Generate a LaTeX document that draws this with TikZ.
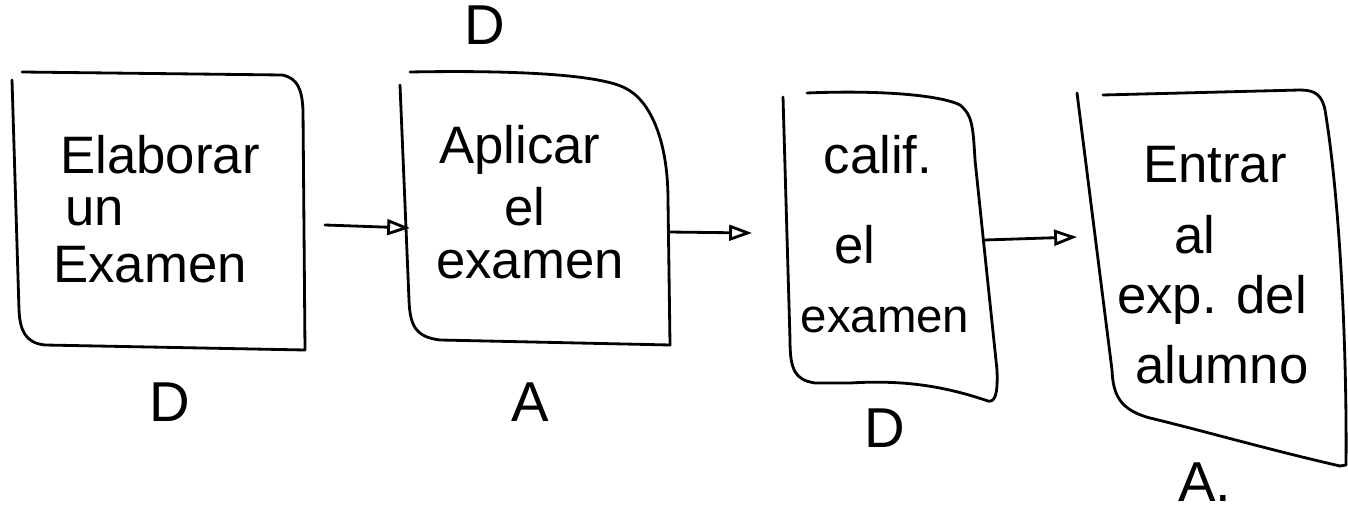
\documentclass[tikz,border=0pt]{standalone}
\usepackage{tikz}
\usetikzlibrary{arrows.meta}
\usepackage{fontspec}
\setmainfont{Liberation Sans}
\tikzset{
  hand/.style={line width=1.6pt, line cap=round, line join=round},
  flecha/.style={hand, -{Triangle[open,length=13pt,width=9pt]}},
  txt/.style={font=\fontsize{30}{34}\selectfont, inner sep=0pt},
  txtc/.style={font=\fontsize{27}{30}\selectfont, inner sep=0pt},
  lbl/.style={font=\fontsize{32}{36}\selectfont, inner sep=0pt}
}
\begin{document}
\begin{tikzpicture}[x=0.02cm,y=-0.02cm]
      \useasboundingbox (0,0) rectangle (1348,516);
      % cajas
      \draw[hand] (22,72) -- (282,75) .. controls (298,78) and (302,90) .. (303,110) -- (305,350) -- (45,345) .. controls (25,343) and (20,330) .. (19,310) -- (12,80);
      \draw[hand] (410,72) .. controls (520,70) and (600,75) .. (625,88) .. controls (650,100) and (668,140) .. (668,200) -- (670,345) -- (440,340) .. controls (415,337) and (410,325) .. (409,300) -- (400,85);
      \draw[hand] (807,93) .. controls (880,90) and (940,95) .. (960,105) .. controls (972,115) and (973,125) .. (975,160) -- (997,370) .. controls (998,395) and (995,405) .. (985,400) .. controls (940,385) and (900,380) .. (850,383) -- (815,383) .. controls (795,380) and (790,370) .. (790,340) -- (783,97);
      \draw[hand] (1103,95) -- (1300,90) .. controls (1315,90) and (1322,95) .. (1325,110) .. controls (1340,200) and (1347,350) .. (1346,465) -- (1340,466) .. controls (1270,450) and (1200,430) .. (1150,418) .. controls (1120,410) and (1113,395) .. (1112,370) -- (1077,93);
      % textos
      \node[txt] (elab) at (160,155) {Elaborar};
      \node[txt] (un) at (95,212) {un};
      \node[txt] (exam1) at (150,265) {Examen};
      \node[txt] (apl) at (520,150) {Aplicar};
      \node[txt] (el2) at (525,207) {el};
      \node[txt] (exam2) at (530,265) {examen};
      \node[txt] (calif) at (878,155) {calif.};
      \node[txt] (el3) at (855,245) {el};
      \node[txtc] (exam3) at (885,320) {examen};
      \node[txt] (entr) at (1215,165) {Entrar};
      \node[txt] (al) at (1195,235) {al};
      \node[txt] (expd) at (1212,300) {exp. del};
      \node[txt] (alum) at (1222,365) {alumno};
      % letras
      \node[lbl] (d2) at (485,25) {D};
      \node[lbl] (d1) at (170,402) {D};
      \node[lbl] (a2) at (530,402) {A};
      \node[lbl] (d3) at (885,428) {D};
      \node[lbl] (a4) at (1205,482) {A.};
      % flechas
      \coordinate (s1) at (325,225);
      \coordinate (e1) at (410,228);
      \coordinate (s2) at (668,232);
      \coordinate (e2) at (752,233);
      \coordinate (s3) at (985,240);
      \coordinate (e3) at (1077,237);
      \draw[flecha] (s1) -- (e1);
      \draw[flecha] (s2) -- (e2);
      \draw[flecha] (s3) -- (e3);
    \end{tikzpicture}
\end{document}
